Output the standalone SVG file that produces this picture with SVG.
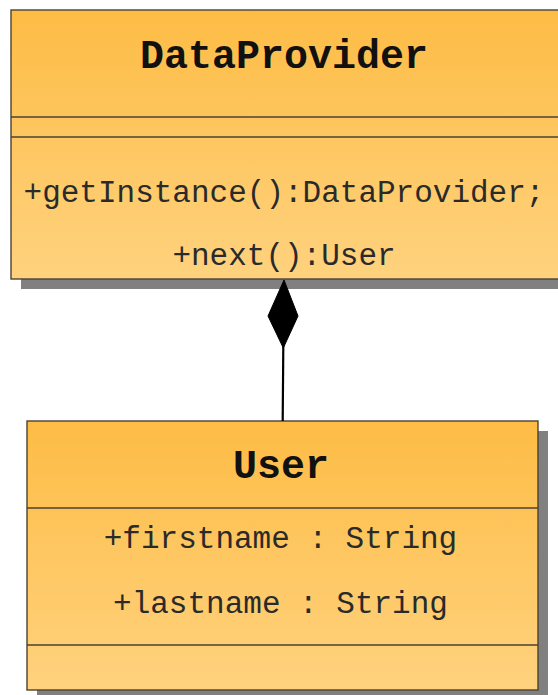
<svg xmlns="http://www.w3.org/2000/svg" width="558" height="695" viewBox="0 0 558 695">
  <defs>
    <linearGradient id="fillGrad" x1="0" y1="0" x2="0" y2="1">
      <stop offset="0" stop-color="#FDBC45"/>
      <stop offset="1" stop-color="#FFD27E"/>
    </linearGradient>
    <style>
      .shadow { fill: #808080; }
      .box { fill: url(#fillGrad); stroke: #4a4232; stroke-width: 1.4; }
      .div { stroke: #4a4232; stroke-width: 1.4; fill: none; }
      .title { font-family: "Liberation Mono", "Courier New", monospace; font-weight: bold; font-size: 40px; fill: #111; text-anchor: middle; }
      .member { font-family: "Liberation Mono", "Courier New", monospace; font-size: 31px; fill: #2a2a2a; text-anchor: middle; }
      .conn { stroke: #000; stroke-width: 2.2; fill: none; }
      .diamond { fill: #000; stroke: #000; stroke-width: 1; }
    </style>
  </defs>
  <rect width="558" height="695" fill="#ffffff"/>

  <g id="node-dataprovider">
    <rect class="shadow" x="21" y="20" width="560" height="269"/>
    <rect class="box" x="11" y="10" width="560" height="269"/>
    <line class="div" x1="11" y1="117" x2="571" y2="117"/>
    <line class="div" x1="11" y1="137" x2="571" y2="137"/>
    <text class="title" x="284" y="68">DataProvider</text>
    <text class="member" x="284" y="202">+getInstance():DataProvider;</text>
    <text class="member" x="284" y="265">+next():User</text>
  </g>

  <g id="node-user">
    <rect class="shadow" x="37" y="431" width="511" height="269"/>
    <rect class="box" x="27" y="421" width="511" height="269"/>
    <line class="div" x1="27" y1="508" x2="538" y2="508"/>
    <line class="div" x1="27" y1="645" x2="538" y2="645"/>
    <text class="title" x="281" y="478">User</text>
    <text class="member" x="280.5" y="548">+firstname : String</text>
    <text class="member" x="280.5" y="613">+lastname : String</text>
  </g>

  <g id="connectors">
    <line class="conn" x1="283.3" y1="346" x2="282.7" y2="421"/>
    <polygon class="diamond" points="284,280 298,316 283.3,348 268,316"/>
  </g>
</svg>
